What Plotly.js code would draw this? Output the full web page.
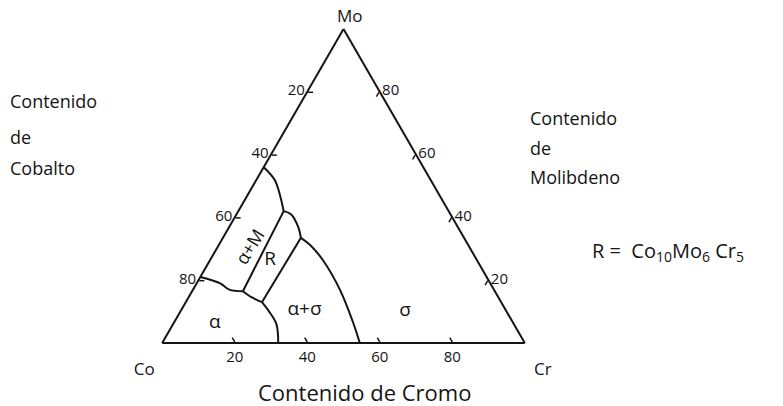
<!DOCTYPE html>
<html><head><meta charset="utf-8">
<script src="https://cdn.plot.ly/plotly-3.0.1.min.js"></script>
<style>html,body{margin:0;padding:0;background:#fff}</style>
</head><body>
<div id="chart" style="width:783px;height:406px"></div>
<script>
// Tick positions on each axis and the printed label (complementary component, as in the drawing)
const tickValues = [20, 40, 60, 80];
const tickLabels = ["80", "60", "40", "20"];

// Phase boundaries: [Mo, Co, Cr] in %
const b1Mo = [56, 52, 47, 42];     const b1Co = [44, 43, 44, 45.5]; const b1Cr = [0, 5, 9, 12.5];
const b2Mo = [42, 41, 37, 33.5];   const b2Co = [45.5, 44, 44, 45]; const b2Cr = [12.5, 15, 19, 21.5];
const b3Mo = [33.5, 31, 26.5, 17, 7, 0]; const b3Co = [45, 43.5, 42.5, 42.5, 44, 45.5]; const b3Cr = [21.5, 25.5, 31, 40.5, 49, 54.5];
const b4Mo = [42, 16.5];   const b4Co = [45.5, 69.5]; const b4Cr = [12.5, 14];
const b5Mo = [21, 19, 17, 16.5]; const b5Co = [79, 74.5, 73, 69.5]; const b5Cr = [0, 6.5, 10, 14];
const b6Mo = [16.5, 14.5, 13];  const b6Co = [69.5, 68, 66];  const b6Cr = [14, 17.5, 21];
const b7Mo = [33.5, 13];   const b7Co = [45, 66];   const b7Cr = [21.5, 21];
const b8Mo = [13, 10, 6, 0]; const b8Co = [66, 65.5, 65.5, 68]; const b8Cr = [21, 24.5, 28.5, 32];

// Phase region labels
const phaseNames = ["α", "R", "α+σ", "σ"];
const phaseMo = [6.4, 26.5, 10.5, 10];
const phaseCo = [82.3, 57, 55.5, 28];
const phaseCr = [11.3, 16.5, 34, 62];

const ink = "#141414";
const font = "Open Sans, DejaVu Sans, sans-serif";

const boundaries = [
  [b1Mo, b1Co, b1Cr], [b2Mo, b2Co, b2Cr], [b3Mo, b3Co, b3Cr], [b4Mo, b4Co, b4Cr],
  [b5Mo, b5Co, b5Cr], [b6Mo, b6Co, b6Cr], [b7Mo, b7Co, b7Cr], [b8Mo, b8Co, b8Cr]
];

const traces = boundaries.map(b => ({
  type: "scatterternary", mode: "lines",
  a: b[0], b: b[1], c: b[2],
  line: {color: ink, width: 2, shape: "spline", smoothing: 1},
  hoverinfo: "skip", showlegend: false
}));

traces.push({
  type: "scatterternary", mode: "text",
  a: phaseMo, b: phaseCo, c: phaseCr, text: phaseNames,
  textfont: {family: font, size: 19, color: ink},
  hoverinfo: "skip", showlegend: false
});

const axisBase = (title) => ({
  title: {text: title, font: {family: font, size: 17, color: ink}},
  tickmode: "array", tickvals: tickValues, ticktext: tickLabels,
  ticks: "inside", ticklen: 5, tickwidth: 1.5, tickcolor: ink,
  tickfont: {family: font, size: 15, color: ink},
  linecolor: ink, linewidth: 2, showgrid: false, showline: true, min: 0
});

const ann = (text, x, y, size, extra) => Object.assign({
  text, x: x / 783, y: 1 - y / 406, xref: "paper", yref: "paper",
  showarrow: false, font: {family: font, size, color: ink}, xanchor: "left", yanchor: "middle"
}, extra || {});

const layout = {
  width: 783, height: 406,
  margin: {l: 0, r: 0, t: 0, b: 0},
  paper_bgcolor: "#fff", plot_bgcolor: "#fff",
  showlegend: false,
  ternary: {
    sum: 100,
    domain: {x: [162 / 783, 525 / 783], y: [1 - 343 / 406, 1 - 29 / 406]},
    bgcolor: "#fff",
    aaxis: axisBase(""),
    baxis: axisBase("Co"),
    caxis: axisBase("Cr")
  },
  annotations: [
    ann("Mo", 350, 15, 17, {xanchor: "center"}),
    ann("Contenido", 8, 101, 18),
    ann("de", 8, 137, 18),
    ann("Cobalto", 8, 168, 18),
    ann("Contenido", 528, 118, 18),
    ann("de", 528, 148, 18),
    ann("Molibdeno", 528, 177, 18),
    ann("R =  Co<sub>10</sub>Mo<sub>6</sub> Cr<sub>5</sub>", 590, 251, 20),
    ann("Contenido de Cromo", 364, 392, 22, {xanchor: "center"}),
    ann("α+M", 249, 247, 18, {xanchor: "center", textangle: -58})
  ]
};

Plotly.newPlot("chart", traces, layout, {displayModeBar: false, staticPlot: true});
</script>
</body></html>
